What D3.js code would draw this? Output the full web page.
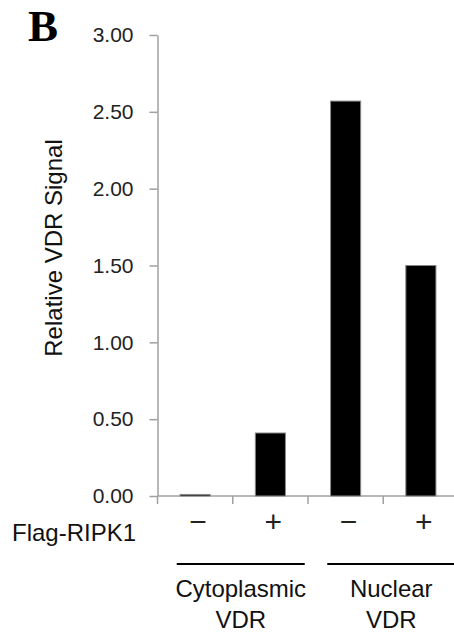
<!DOCTYPE html>
<html>
<head>
<meta charset="utf-8">
<script src="https://cdn.jsdelivr.net/npm/d3@7"></script>
<style>
  body { margin: 0; background: #fff; }
</style>
</head>
<body>
<script>
// chart data
var conditions = ["cyto-", "cyto+", "nuc-", "nuc+"];
var signs = ["\u2212", "+", "\u2212", "+"];
var values = [0.01, 0.41, 2.57, 1.50];
var groupNames = [["Cytoplasmic", "VDR"], ["Nuclear", "VDR"]];
var groupMembers = [["cyto-", "cyto+"], ["nuc-", "nuc+"]];
var yTicks = [0, 0.5, 1, 1.5, 2, 2.5, 3];

// layout
var w = 454;
var h = 632;
var left = 157.5;
var right = 458.5;
var top_y = 35;
var bottom_y = 496;
var axisColor = "#a0a0a0";
var sans = "Liberation Sans, Arial, sans-serif";

var svg = d3.select("body")
            .append("svg")
            .attr("width", w)
            .attr("height", h)
            .style("font-family", sans);

var xScale = d3.scaleBand()
               .domain(conditions)
               .range([left, right])
               .paddingInner(0.6)
               .paddingOuter(0.3);

var yScale = d3.scaleLinear()
               .domain([0, 3])
               .range([bottom_y, top_y]);

// y axis
var yAxis = d3.axisLeft(yScale)
              .tickValues(yTicks)
              .tickFormat(d3.format(".2f"))
              .tickSize(8)
              .tickSizeOuter(0)
              .tickPadding(16);

var gy = svg.append("g")
            .attr("transform", "translate(" + left + ",0)")
            .call(yAxis);
gy.select(".domain").attr("stroke", axisColor).attr("stroke-width", 1.5);
gy.selectAll(".tick line").attr("stroke", axisColor).attr("stroke-width", 1.5);
gy.selectAll(".tick text")
  .attr("font-size", 21)
  .attr("font-family", sans)
  .attr("fill", "#222");

// x axis line and ticks at band edges
svg.append("line")
   .attr("x1", left).attr("x2", right)
   .attr("y1", yScale(0)).attr("y2", yScale(0))
   .attr("stroke", axisColor).attr("stroke-width", 1.5);

var edges = d3.range(conditions.length + 1).map(function(i) { return left + i * xScale.step(); });

svg.selectAll(".xtick")
   .data(edges)
   .enter()
   .append("line")
   .attr("x1", function(d) { return d; })
   .attr("x2", function(d) { return d; })
   .attr("y1", yScale(0))
   .attr("y2", yScale(0) + 8)
   .attr("stroke", axisColor)
   .attr("stroke-width", 1.5);

// bars
svg.selectAll("rect.bar")
   .data(values)
   .enter()
   .append("rect")
   .attr("class", "bar")
   .attr("x", function(d, i) { return xScale(conditions[i]); })
   .attr("y", function(d) { return yScale(d); })
   .attr("width", xScale.bandwidth())
   .attr("height", function(d) { return yScale(0) - yScale(d); })
   .attr("fill", "#000")
   .attr("stroke", "#888")
   .attr("stroke-width", 1);

// +/- row
svg.selectAll("text.sign")
   .data(signs)
   .enter()
   .append("text")
   .attr("class", "sign")
   .attr("x", function(d, i) { return xScale(conditions[i]) + xScale.bandwidth() / 2 + 3; })
   .attr("y", 532)
   .attr("text-anchor", "middle")
   .attr("font-size", 30)
   .attr("fill", "#222")
   .text(function(d) { return d; });

svg.append("text")
   .attr("x", 12)
   .attr("y", 541)
   .attr("font-size", 24)
   .attr("fill", "#111")
   .text("Flag-RIPK1");

// group brackets and labels
groupMembers.forEach(function(g, i) {
  var c0 = xScale(g[0]) + xScale.bandwidth() / 2;
  var c1 = xScale(g[g.length - 1]) + xScale.bandwidth() / 2;
  var cx = (c0 + c1) / 2 + 8;
  svg.append("line")
     .attr("x1", cx - 64).attr("x2", cx + 64)
     .attr("y1", 564).attr("y2", 564)
     .attr("stroke", "#000").attr("stroke-width", 2);
  groupNames[i].forEach(function(t, j) {
    svg.append("text")
       .attr("x", cx)
       .attr("y", 597 + j * 31)
       .attr("text-anchor", "middle")
       .attr("font-size", 24)
       .attr("fill", "#111")
       .text(t);
  });
});

// y label
svg.append("text")
   .attr("transform", "translate(62,248) rotate(-90)")
   .attr("text-anchor", "middle")
   .attr("font-size", 24)
   .attr("fill", "#111")
   .text("Relative VDR Signal");

// panel letter
svg.append("text")
   .attr("x", 28)
   .attr("y", 41)
   .style("font-family", "Liberation Serif, Times New Roman, serif")
   .attr("font-weight", "bold")
   .attr("font-size", 45)
   .attr("fill", "#000")
   .text("B");
</script>
</body>
</html>
